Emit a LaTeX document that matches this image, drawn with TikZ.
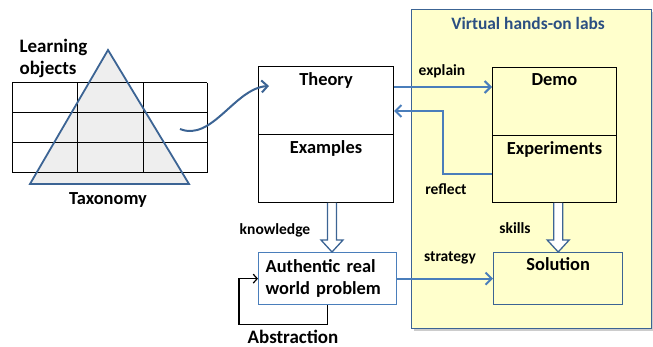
\documentclass[tikz,border=0pt]{standalone}
\usepackage{fontspec}
\setmainfont{Carlito}
\usetikzlibrary{arrows.meta,calc,shadows}
\definecolor{lineblue}{HTML}{4A7EBB}
\definecolor{edgeblue}{HTML}{3C6494}
\definecolor{labyellow}{HTML}{FFFFCC}
\definecolor{titleblue}{HTML}{2B4F82}
\definecolor{trigray}{HTML}{EEEEEE}
\tikzset{
  box/.style={draw, line width=1pt, inner sep=0pt},
  boxtext/.style={font=\fontsize{18.4}{22}\selectfont\bfseries},
  tag/.style={font=\fontsize{15.5}{18}\selectfont\bfseries},
  bigtag/.style={font=\fontsize{19}{22}\selectfont\bfseries},
  flow/.style={draw=lineblue, line width=2pt, -{Straight Barb[length=6pt,width=12pt]}},
  fat/.style={draw=edgeblue, line width=1.3pt, fill=white, line join=miter},
}
% hollow block arrow pointing down, from #1 to #2 (same x)
\newcommand\hollowdown[2]{%
  \draw[fat] ($(#1)+(-4.5,0)$) -- ($(#2)+(-4.5,-12)$) -- ($(#2)+(-11,-12)$)
    -- (#2) -- ($(#2)+(11,-12)$) -- ($(#2)+(4.5,-12)$) -- ($(#1)+(4.5,0)$);}
\begin{document}
\begin{tikzpicture}[x=1pt,y=-1pt]
  \useasboundingbox (0,0) rectangle (653,347);

  % ---- the lab panel on the right ----
  \node[box, draw=edgeblue, line width=1.4pt, fill=labyellow, anchor=north west,
        minimum width=240pt, minimum height=319pt,
        drop shadow={shadow xshift=2pt, shadow yshift=-2pt, opacity=0.4}]
        (lab) at (411,9) {};
  \node[font=\fontsize{17.4}{20}\selectfont\bfseries, text=titleblue] (labtitle) at (528,23) {Virtual hands-on labs};

  % ---- taxonomy: triangle under a grid of learning objects ----
  \fill[trigray] (108,50) -- (30,184) -- (189,184) -- cycle;
  \foreach \y in {83,113,143,173}
    \draw[line width=1pt] (12,\y) -- (207,\y);
  \foreach \x in {12,77,143,207}
    \draw[line width=1pt] (\x,83) -- (\x,173);
  \draw[edgeblue, line width=1.8pt, line join=miter] (108,50) -- (30,184) -- (189,184) -- cycle;
  \node[bigtag, align=left, anchor=west] (lobj) at (16,58) {Learning\\objects};
  \node[boxtext] (tax) at (108,200) {Taxonomy};

  % ---- theory side ----
  \node[box, fill=white, anchor=north west, minimum width=135pt, minimum height=68pt,
        label={[boxtext, anchor=north, yshift=-3pt]north:Theory}] (th) at (258,66) {};
  \node[box, fill=white, anchor=north west, minimum width=135pt, minimum height=68pt,
        label={[boxtext, anchor=north, yshift=-3pt]north:Examples}] (ex) at (258,134) {};
  \node[box, draw=lineblue, line width=1.3pt, fill=white, anchor=north west, minimum width=138pt,
        minimum height=52pt, text width=124pt, inner xsep=7pt, align=left,
        boxtext] (au) at (258,252) {Authentic real\\world problem};

  % ---- lab side ----
  \node[box, fill=labyellow, anchor=north west, minimum width=124pt, minimum height=68pt,
        label={[boxtext, anchor=north, yshift=-3pt]north:Demo}] (dm) at (492,67) {};
  \node[box, fill=labyellow, anchor=north west, minimum width=124pt, minimum height=67pt,
        label={[boxtext, anchor=north, yshift=-3pt]north:Experiments}] (xp) at (492,135) {};
  \node[box, draw=edgeblue, line width=1.4pt, fill=labyellow, anchor=north west,
        minimum width=129pt, minimum height=52pt,
        label={[boxtext, anchor=north, yshift=-2pt]north:Solution}] (so) at (493,252) {};

  % ---- connectors ----
  \coordinate (lo) at (180,129);
  \coordinate (thin) at ($(th.north west)+(11,20)$);
  \draw[flow, draw=edgeblue] (lo) .. controls (212,142) and (235,88) .. (thin);

  \draw[flow] ($(th.north east)+(0,21)$) coordinate (e1) -- (e1 -| dm.west);
  \draw[flow] ($(xp.west)+(0,5)$) -| ($(th.north east)+(49,45)$) -- ($(th.north east)+(0,45)$);
  \draw[flow] (au.east) -- (au.east -| so.west);
  \draw[line width=1.2pt, -{Straight Barb[length=4pt,width=9pt]}]
    (au.south) -- ++(0,19) -| ($(au.west)+(-19,0)$) -- (au.west);

  \coordinate (k1) at ($(ex.south)+(6,0)$);
  \coordinate (k2) at (k1 |- au.north);
  \hollowdown{k1}{k2}
  \coordinate (s1) at (so.north |- xp.south);
  \hollowdown{s1}{so.north}

  % ---- connector labels ----
  \node[tag] (lexplain) at (442,71) {explain};
  \node[tag] (lreflect) at (446,189) {reflect};
  \node[tag] (lstrategy) at (450,258) {strategy};
  \node[tag] (lskills) at (515,228) {skills};
  \node[tag] (lknow) at (275,230) {knowledge};
  \node[bigtag, inner sep=0.5pt] (labstr) at (293,337) {Abstraction};
\end{tikzpicture}
\end{document}
